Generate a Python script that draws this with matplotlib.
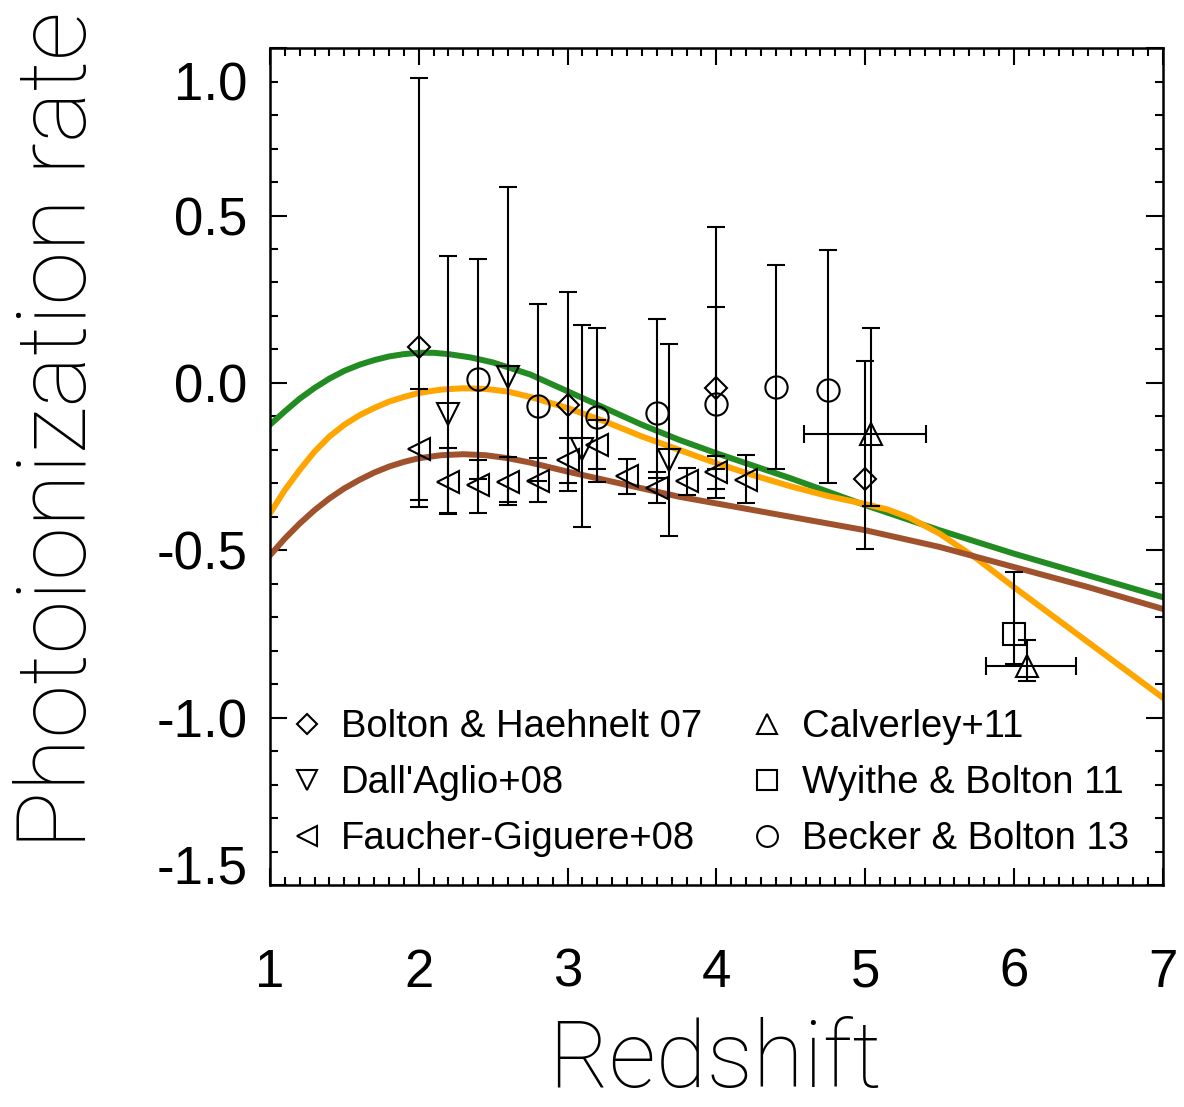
import numpy as np
import matplotlib
matplotlib.use('Agg')
import matplotlib.pyplot as plt
import matplotlib.transforms as mtransforms
from matplotlib.lines import Line2D

plt.rcParams['font.family'] = ['Liberation Sans', 'DejaVu Sans']

# model curves
z_green = [1.0, 1.1, 1.2, 1.3, 1.4, 1.5, 1.6, 1.7, 1.8, 1.9, 2.0, 2.1, 2.2, 2.35, 2.5, 2.75, 3.0, 3.25, 3.5, 3.75, 4.0, 4.5, 5.0, 5.5, 6.0, 6.5, 7.0]
g_green = [-0.125, -0.085, -0.047, -0.015, 0.013, 0.036, 0.054, 0.068, 0.079, 0.086, 0.09, 0.09, 0.086, 0.076, 0.061, 0.025, -0.025, -0.075, -0.125, -0.17, -0.21, -0.285, -0.365, -0.44, -0.51, -0.575, -0.64]

z_orange = [1.0, 1.1, 1.2, 1.3, 1.4, 1.5, 1.6, 1.7, 1.8, 1.9, 2.0, 2.15, 2.3, 2.45, 2.6, 2.75, 3.0, 3.25, 3.5, 3.75, 4.0, 4.25, 4.5, 4.75, 5.0, 5.15, 5.3, 5.5, 5.75, 6.0, 6.5, 7.0]
g_orange = [-0.39, -0.32, -0.26, -0.205, -0.16, -0.125, -0.097, -0.075, -0.056, -0.042, -0.03, -0.02, -0.016, -0.018, -0.026, -0.042, -0.075, -0.115, -0.16, -0.2, -0.24, -0.276, -0.309, -0.338, -0.362, -0.378, -0.403, -0.45, -0.525, -0.61, -0.775, -0.94]

z_brown = [1.0, 1.1, 1.2, 1.3, 1.4, 1.5, 1.6, 1.7, 1.8, 1.9, 2.0, 2.15, 2.3, 2.45, 2.6, 2.75, 3.0, 3.25, 3.5, 3.75, 4.0, 4.5, 5.0, 5.5, 6.0, 6.5, 7.0]
g_brown = [-0.515, -0.465, -0.42, -0.38, -0.345, -0.315, -0.29, -0.268, -0.25, -0.236, -0.225, -0.216, -0.213, -0.216, -0.225, -0.238, -0.265, -0.29, -0.315, -0.34, -0.36, -0.4, -0.44, -0.49, -0.55, -0.61, -0.675]

# measurements: z, value, upper end, lower end
bh07_z = [2.0, 3.0, 4.0, 5.0]
bh07_g = [0.108, -0.066, -0.014, -0.286]
bh07_hi = [0.911, 0.273, 0.466, 0.064]
bh07_lo = [-0.371, -0.323, -0.345, -0.496]

da08_z = [2.2, 2.6, 3.1, 3.68]
da08_g = [-0.094, 0.019, -0.198, -0.229]
da08_hi = [0.379, 0.586, 0.174, 0.116]
da08_lo = [-0.39, -0.366, -0.431, -0.456]

fg08_z = [2.0, 2.2, 2.4, 2.6, 2.8, 3.0, 3.2, 3.4, 3.6, 3.8, 4.0, 4.2]
fg08_g = [-0.196, -0.296, -0.306, -0.296, -0.293, -0.231, -0.186, -0.279, -0.315, -0.294, -0.266, -0.289]
fg08_hi = [-0.019, -0.194, -0.229, -0.221, -0.223, -0.166, -0.111, -0.228, -0.267, -0.253, -0.218, -0.214]
fg08_lo = [-0.351, -0.393, -0.388, -0.356, -0.356, -0.299, -0.258, -0.333, -0.358, -0.336, -0.316, -0.359]

c11_z = [5.04, 6.09]
c11_g = [-0.152, -0.845]
c11_hi = [0.165, -0.768]
c11_lo = [-0.369, -0.891]
c11_zlo = [4.59, 5.81]
c11_zhi = [5.41, 6.42]

wb11_z = [6.0]
wb11_g = [-0.749]
wb11_hi = [-0.566]
wb11_lo = [-0.839]

bb13_z = [2.4, 2.8, 3.2, 3.6, 4.0, 4.4, 4.75]
bb13_g = [0.012, -0.069, -0.101, -0.089, -0.063, -0.013, -0.021]
bb13_hi = [0.369, 0.237, 0.165, 0.191, 0.228, 0.353, 0.396]
bb13_lo = [-0.286, -0.294, -0.296, -0.285, -0.256, -0.258, -0.298]

labels = ['Bolton & Haehnelt 07', "Dall'Aglio+08", 'Faucher-Giguere+08',
          'Calverley+11', 'Wyithe & Bolton 11', 'Becker & Bolton 13']

fig = plt.figure(figsize=(11.84, 11.07), dpi=100)
ax = fig.add_axes([0.228, 0.2005, 0.754, 0.756])

ax.plot(z_green, g_green, color='#228B22', lw=4.3, zorder=2, solid_joinstyle='round')
ax.plot(z_orange, g_orange, color='#FFA500', lw=4.3, zorder=2, solid_joinstyle='round')
ax.plot(z_brown, g_brown, color='#A0522D', lw=4.3, zorder=2, solid_joinstyle='round')


def points(z, g, hi, lo, marker, ms, xerr=None):
    g = np.array(g)
    yerr = [g - np.array(lo), np.array(hi) - g]
    ax.errorbar(z, g, yerr=yerr, xerr=xerr, fmt=marker, ms=ms, mfc='none', mec='k',
                mew=1.5, ecolor='k', elinewidth=1.5, capsize=6.5, capthick=1.5, zorder=3)


points(bh07_z, bh07_g, bh07_hi, bh07_lo, 'D', 11.3)
points(da08_z, da08_g, da08_hi, da08_lo, 'v', 16)
points(fg08_z, fg08_g, fg08_hi, fg08_lo, '<', 16)
cz = np.array(c11_z)
points(c11_z, c11_g, c11_hi, c11_lo, '^', 16,
       xerr=[cz - np.array(c11_zlo), np.array(c11_zhi) - cz])
points(wb11_z, wb11_g, wb11_hi, wb11_lo, 's', 16)
points(bb13_z, bb13_g, bb13_hi, bb13_lo, 'o', 16)

ax.set_xlim(1, 7)
ax.set_ylim(-1.5, 1.0)
ax.set_xticks(np.arange(1, 8, 1))
ax.set_xticks(np.arange(1, 7.01, 0.1), minor=True)
ax.set_yticks([-1.5, -1.0, -0.5, 0.0, 0.5, 1.0])
ax.set_yticks(np.arange(-1.5, 1.01, 0.1), minor=True)
ax.set_yticklabels(['-1.5', '-1.0', '-0.5', '0.0', '0.5', '1.0'])
ax.tick_params(which='both', direction='in', top=True, right=True, width=1.5, labelsize=38)
ax.tick_params(which='major', length=12)
ax.tick_params(which='minor', length=5.5)
ax.tick_params(axis='x', pad=45)
ax.tick_params(axis='y', pad=16)
for s in ax.spines.values():
    s.set_linewidth(1.8)

# IDL-style end labels pulled inside the frame
yl = ax.yaxis.get_major_ticks()
yl[-1].label1.set_transform(yl[-1].label1.get_transform() +
                            mtransforms.ScaledTranslation(0, -33 / 100, fig.dpi_scale_trans))
yl[0].label1.set_transform(yl[0].label1.get_transform() +
                           mtransforms.ScaledTranslation(0, 21 / 100, fig.dpi_scale_trans))

handles = [Line2D([], [], ls='none', marker=m, ms=s, mfc='none', mec='k', mew=1.5)
           for m, s in [('D', 10.5), ('v', 15), ('<', 15), ('^', 15), ('s', 15), ('o', 15)]]
ax.legend(handles, labels, ncol=2, frameon=False, fontsize=27.5, loc='lower left',
          bbox_to_anchor=(0.02, 0.033), handlelength=1.0, handletextpad=0.4,
          columnspacing=1.2, labelspacing=0.53, borderpad=0, borderaxespad=0)

fig.text(60 / 1184, 1 - 430 / 1107, 'Photoionization rate', rotation=90, ha='center',
         va='center', fontsize=70, family=['Roboto', 'DejaVu Sans'], fontweight='light')
fig.text(715 / 1184, 0.001, 'Redshift', ha='center', va='bottom',
         fontsize=67, family=['Roboto', 'DejaVu Sans'], fontweight='light')

fig.savefig('out.png', dpi=100)
